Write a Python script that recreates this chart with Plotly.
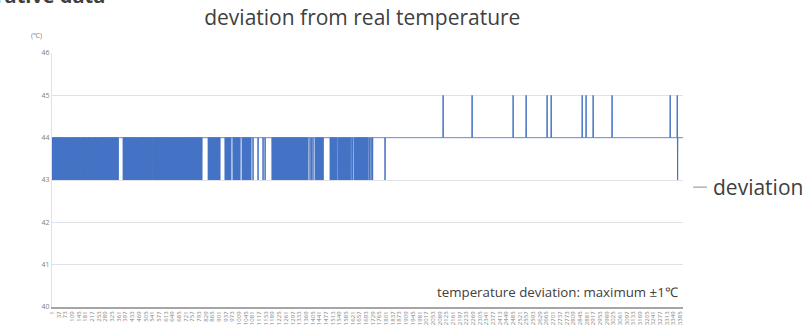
import plotly.graph_objects as go

# ---- data ----
N_SAMPLES = 3400
BASE_VALUE = 44
LOW_VALUE = 43
HIGH_VALUE = 45

# sample ranges where the reading flips 44/43 on every sample (solid blue blocks)
dense_spans = [(0, 67), (73, 94), (100, 148), (154, 186), (191, 213), (218, 240),
               (245, 356), (383, 461), (466, 536), (542, 633), (638, 671), (676, 808),
               (841, 905), (932, 964), (975, 1013), (1024, 1072), (1185, 1379),
               (1417, 1460), (1498, 1535), (1552, 1606), (1627, 1703)]
# isolated single samples reading 43
single_dips = [1083, 1110, 1137, 1148, 1390, 1398, 1406, 1544, 1549, 1611, 1619,
               1711, 1719, 1727, 1794, 3370]
# isolated single samples reading 45
spikes_up = [2107, 2263, 2484, 2554, 2667, 2689, 2856, 2877, 2915, 3017, 3330, 3368]

y_ticks = [40, 41, 42, 43, 44, 45, 46]
x_tick_step = 36
x_tick_labels = [str(v) for v in range(1, N_SAMPLES, x_tick_step)]

series_name = "deviation"
title_text = "deviation from real temperature"
note_text = "temperature deviation: maximum ±1℃"
unit_text = "(℃)"
heading_text = "Comparative data"

# ---- build the series ----
values = [BASE_VALUE] * N_SAMPLES
for a, b in dense_spans:
    for i in range(a, b + 1):
        values[i] = LOW_VALUE if (i - a) % 2 else BASE_VALUE
for i in single_dips:
    values[i] = LOW_VALUE
for i in spikes_up:
    values[i] = HIGH_VALUE
xs = list(range(1, N_SAMPLES + 1))

BLUE = "#4472C4"
TXT = "#404040"
GRID = "#dfe3e8"
FONT = "Open Sans"

fig = go.Figure()
fig.add_trace(go.Scatter(x=xs, y=values, mode="lines", name=series_name,
                         line=dict(color=BLUE, width=1, simplify=False),
                         showlegend=False, hoverinfo="skip"))

fig.update_layout(
    width=807, height=328,
    margin=dict(l=52, r=124, t=53, b=21, autoexpand=False),
    paper_bgcolor="white", plot_bgcolor="white",
    font=dict(family=FONT, color=TXT),
    title=dict(text=title_text, x=0.449, xanchor="center", y=0.945, yanchor="middle",
               font=dict(size=21, color=TXT, family=FONT)),
)
fig.update_xaxes(range=[1, N_SAMPLES], showgrid=False, zeroline=False,
                 tickmode="array", tickvals=list(range(1, N_SAMPLES, x_tick_step)),
                 ticktext=x_tick_labels, tickangle=-90,
                 tickfont=dict(size=6, color="#808080"),
                 showline=True, linecolor="#a6a6a6", linewidth=2, ticks="",
                 automargin=False)
fig.update_yaxes(range=[40, 46], tickvals=y_ticks, showgrid=True, gridcolor=GRID,
                 gridwidth=1, zeroline=False, showline=True, linecolor=GRID,
                 tickfont=dict(size=7, color="#808080"), ticks="", automargin=False)

annotations = [
    dict(text=note_text, xref="paper", yref="paper", x=0.995, y=0.059,
         xanchor="right", yanchor="middle", showarrow=False,
         font=dict(size=13.3, color=TXT, family=FONT)),
    dict(text=unit_text, xref="paper", yref="paper", x=-0.012, y=1.07,
         xanchor="right", yanchor="middle", showarrow=False,
         font=dict(size=7, color="#808080", family=FONT)),
    dict(text=series_name, xref="paper", yref="paper", x=1.044, y=0.472,
         xanchor="left", yanchor="middle", showarrow=False,
         font=dict(size=21, color=TXT, family=FONT)),
    dict(text="<b>" + heading_text + "</b>", xref="paper", yref="paper",
         x=0.087, y=1.225, xanchor="right", yanchor="middle", showarrow=False,
         font=dict(size=20, color=TXT, family=FONT)),
]
fig.update_layout(annotations=annotations)
fig.add_shape(type="line", xref="paper", yref="paper", x0=1.016, x1=1.038, y0=0.472, y1=0.472,
              line=dict(color="#8a8a8a", width=1))

fig.write_html("out.html", config={"displayModeBar": False},
               post_script="document.body.style.margin='0';")
